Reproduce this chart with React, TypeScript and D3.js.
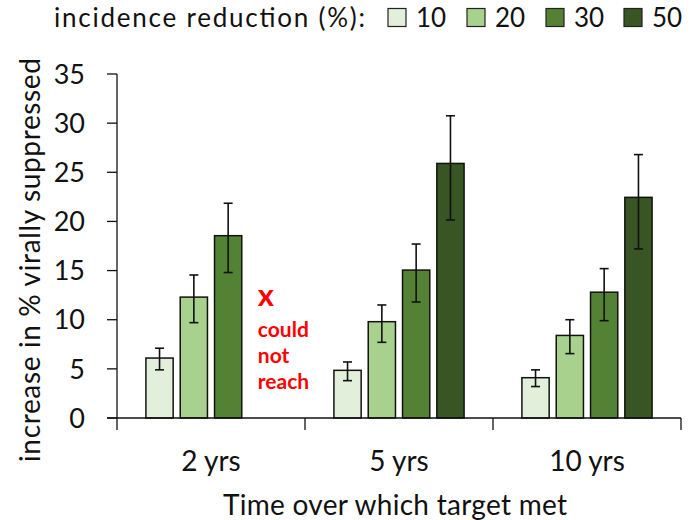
import React from "react";
import * as d3 from "d3";

const groups = ["2 yrs", "5 yrs", "10 yrs"];
const seriesNames = ["10", "20", "30", "50"];
const colors = ["#e2efda", "#a9d18e", "#548235", "#375623"];
// values per series (null = could not reach)
const vals10 = [6.1, 4.85, 4.1];
const vals20 = [12.3, 9.8, 8.4];
const vals30 = [18.55, 15.05, 12.8];
const vals50: (number | null)[] = [null, 25.9, 22.45];
const lo10 = [4.9, 3.8, 3.2];
const hi10 = [7.1, 5.7, 4.9];
const lo20 = [9.7, 7.7, 6.55];
const hi20 = [14.55, 11.5, 10.0];
const lo30 = [14.8, 11.8, 9.9];
const hi30 = [21.85, 17.7, 15.2];
const lo50: (number | null)[] = [null, 20.15, 17.2];
const hi50: (number | null)[] = [null, 30.75, 26.8];
const yTicks = [0, 5, 10, 15, 20, 25, 30, 35];

const W = 691;
const H = 520;
const FONT = "Lato, 'Open Sans', sans-serif";

export default function App() {
  const x0 = d3.scaleBand<string>().domain(groups).range([117, 681]).padding(0);
  const x1 = d3
    .scaleBand<string>()
    .domain(seriesNames)
    .range([0, x0.bandwidth()])
    .paddingInner(0.206)
    .paddingOuter(0.843);
  const y = d3.scaleLinear().domain([0, 35]).range([418, 74]);

  const vals = [vals10, vals20, vals30, vals50];
  const los = [lo10, lo20, lo30, lo50];
  const his = [hi10, hi20, hi30, hi50];

  const bars: React.ReactNode[] = [];
  groups.forEach((g, gi) => {
    seriesNames.forEach((s, si) => {
      const v = vals[si][gi];
      if (v == null) return;
      const bx = (x0(g) as number) + (x1(s) as number);
      const bw = x1.bandwidth();
      bars.push(
        <rect
          key={`b-${g}-${s}`}
          x={bx}
          y={y(v)}
          width={bw}
          height={y(0) - y(v)}
          fill={colors[si]}
          stroke="#111"
          strokeWidth={1.5}
        />
      );
      const lo = los[si][gi] as number;
      const hi = his[si][gi] as number;
      const cx = bx + bw / 2;
      bars.push(
        <g key={`e-${g}-${s}`} stroke="#111" strokeWidth={1.6}>
          <line x1={cx} x2={cx} y1={y(hi)} y2={y(lo)} />
          <line x1={cx - 4.5} x2={cx + 4.5} y1={y(hi)} y2={y(hi)} />
          <line x1={cx - 4.5} x2={cx + 4.5} y1={y(lo)} y2={y(lo)} />
        </g>
      );
    });
  });

  const annX = (x0("2 yrs") as number) + (x1("50") as number) + 9;

  const legendItems = [
    { x: 388, label: seriesNames[0] },
    { x: 467, label: seriesNames[1] },
    { x: 546, label: seriesNames[2] },
    { x: 624, label: seriesNames[3] },
  ];

  return (
    <svg
      width={W}
      height={H}
      style={{ position: "absolute", left: 0, top: 0, background: "#fff" }}
      fontFamily={FONT}
    >
      {/* legend */}
      <text x={54} y={27} fontSize={26} fill="#111" textLength={311} lengthAdjust="spacing">
        incidence reduction (%):
      </text>
      {legendItems.map((it, i) => (
        <g key={it.label}>
          <rect
            x={it.x}
            y={8.5}
            width={18}
            height={18}
            fill={colors[i]}
            stroke="#222"
            strokeWidth={1.2}
          />
          <text x={it.x + 28} y={27} fontSize={26} fill="#111">
            {it.label}
          </text>
        </g>
      ))}

      {/* y axis */}
      <line x1={117} x2={117} y1={y(35)} y2={y(0) + 12} stroke="#111" strokeWidth={1.3} />
      {yTicks.map((t) => (
        <g key={t}>
          <line x1={107} x2={117} y1={y(t)} y2={y(t)} stroke="#111" strokeWidth={1.3} />
          <text
            x={85}
            y={y(t)}
            dy="0.36em"
            textAnchor="end"
            fontSize={27}
            fill="#111"
          >
            {t}
          </text>
        </g>
      ))}
      <text
        transform={`translate(40, 260) rotate(-90)`}
        textAnchor="middle"
        fontSize={28}
        fill="#111"
        textLength={404}
        lengthAdjust="spacing"
      >
        increase in % virally suppressed
      </text>

      {/* bars */}
      {bars}

      {/* x axis */}
      <line x1={107} x2={681} y1={y(0)} y2={y(0)} stroke="#111" strokeWidth={1.3} />
      {[...groups.map((g) => x0(g) as number), 681].map((xx, i) =>
        i === 0 ? null : (
          <line key={i} x1={xx} x2={xx} y1={y(0)} y2={y(0) + 12} stroke="#111" strokeWidth={1.3} />
        )
      )}
      {groups.map((g) => (
        <text
          key={g}
          x={(x0(g) as number) + x0.bandwidth() / 2}
          y={471}
          textAnchor="middle"
          fontSize={28}
          fill="#111"
        >
          {g}
        </text>
      ))}
      <text x={395} y={515} textAnchor="middle" fontSize={28} fill="#111" textLength={344} lengthAdjust="spacing">
        Time over which target met
      </text>

      {/* annotation */}
      <text x={annX} y={306} fontSize={31} fontWeight="bold" fill="#ff0000">
        x
      </text>
      <text x={annX} y={337} fontSize={21} fontWeight="bold" fill="#ff0000">
        could
      </text>
      <text x={annX} y={363} fontSize={21} fontWeight="bold" fill="#ff0000">
        not
      </text>
      <text x={annX} y={389} fontSize={21} fontWeight="bold" fill="#ff0000">
        reach
      </text>
    </svg>
  );
}
